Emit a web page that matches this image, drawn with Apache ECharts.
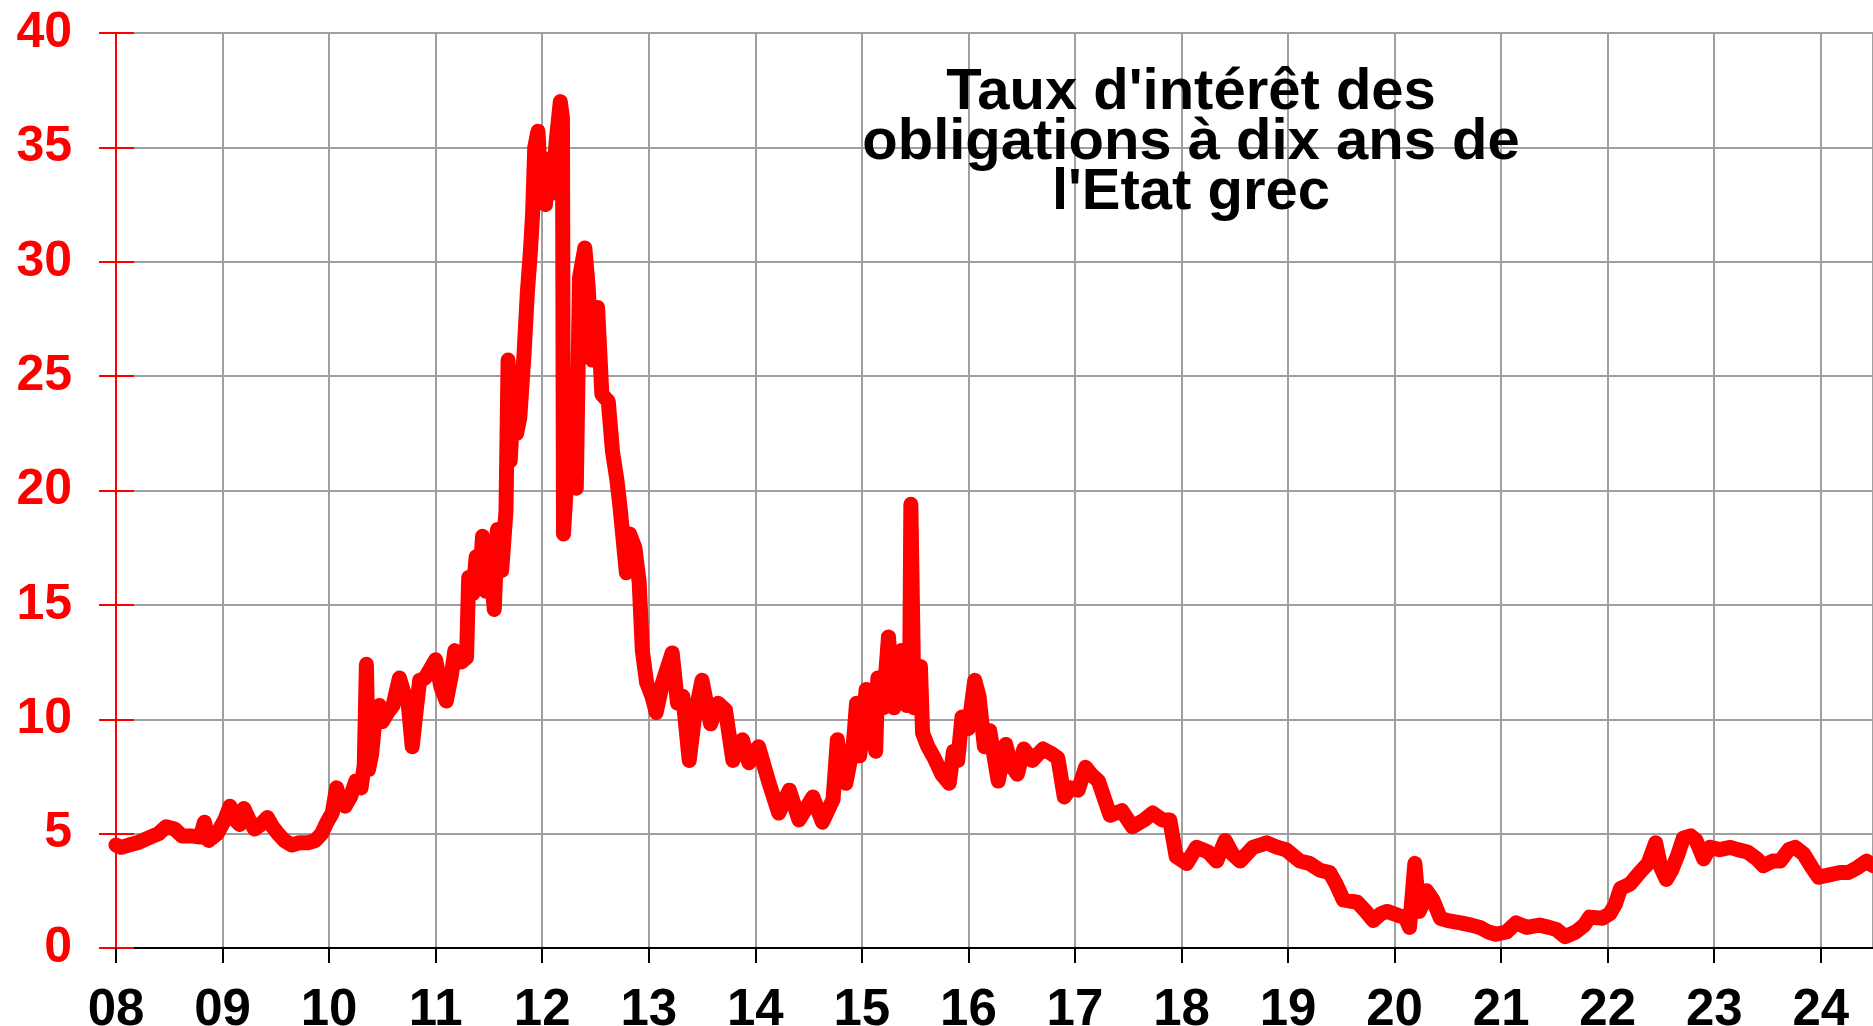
<!DOCTYPE html>
<html>
<head>
<meta charset="utf-8">
<script src="https://cdn.jsdelivr.net/npm/echarts@6/dist/echarts.min.js"></script>
<style>
  html, body { margin: 0; padding: 0; background: #ffffff; }
  #chart { width: 1873px; height: 1026px; }
</style>
</head>
<body>
<div id="chart"></div>
<script>
// Decimal year of each observation
const dates = [
  2008.00, 2008.05, 2008.12, 2008.20, 2008.30, 2008.40, 2008.47, 2008.55, 2008.62, 2008.70,
  2008.79, 2008.83, 2008.87, 2008.95, 2009.02, 2009.07, 2009.12, 2009.16, 2009.20, 2009.25,
  2009.30, 2009.36, 2009.42, 2009.47, 2009.52, 2009.58, 2009.65, 2009.72, 2009.80, 2009.87,
  2009.93, 2009.98, 2010.03, 2010.07, 2010.10, 2010.15, 2010.20, 2010.25, 2010.30, 2010.33,
  2010.35, 2010.37, 2010.40, 2010.42, 2010.45, 2010.47, 2010.50, 2010.55, 2010.60, 2010.66,
  2010.70, 2010.74, 2010.78, 2010.82, 2010.85, 2010.90, 2010.95, 2011.00, 2011.05, 2011.10,
  2011.15, 2011.18, 2011.24, 2011.29, 2011.31, 2011.35, 2011.38, 2011.42, 2011.44, 2011.47,
  2011.50, 2011.55, 2011.58, 2011.62, 2011.66, 2011.68, 2011.70, 2011.73, 2011.76, 2011.79,
  2011.83, 2011.86, 2011.89, 2011.91, 2011.93, 2011.96, 2011.98, 2012.00, 2012.03, 2012.07,
  2012.10, 2012.13, 2012.17, 2012.19, 2012.20, 2012.23, 2012.25, 2012.28, 2012.32, 2012.35,
  2012.40, 2012.43, 2012.47, 2012.52, 2012.56, 2012.62, 2012.66, 2012.70, 2012.73, 2012.79,
  2012.82, 2012.87, 2012.91, 2012.94, 2012.98, 2013.03, 2013.07, 2013.13, 2013.22, 2013.27,
  2013.32, 2013.38, 2013.43, 2013.50, 2013.58, 2013.65, 2013.72, 2013.79, 2013.88, 2013.94,
  2014.03, 2014.13, 2014.22, 2014.32, 2014.41, 2014.54, 2014.63, 2014.73, 2014.77, 2014.82,
  2014.85, 2014.92, 2014.95, 2014.98, 2015.04, 2015.10, 2015.13, 2015.15, 2015.20, 2015.25,
  2015.30, 2015.37, 2015.42, 2015.45, 2015.46, 2015.49, 2015.52, 2015.55, 2015.57, 2015.62,
  2015.68, 2015.75, 2015.82, 2015.86, 2015.90, 2015.94, 2016.00, 2016.06, 2016.10, 2016.15,
  2016.20, 2016.28, 2016.35, 2016.40, 2016.46, 2016.52, 2016.60, 2016.70, 2016.78, 2016.84,
  2016.90, 2016.96, 2017.03, 2017.10, 2017.15, 2017.22, 2017.33, 2017.44, 2017.54, 2017.65,
  2017.73, 2017.82, 2017.89, 2017.95, 2018.05, 2018.14, 2018.25, 2018.33, 2018.41, 2018.48,
  2018.55, 2018.67, 2018.80, 2018.90, 2018.98, 2019.11, 2019.20, 2019.30, 2019.39, 2019.45,
  2019.52, 2019.65, 2019.73, 2019.80, 2019.87, 2019.93, 2020.05, 2020.10, 2020.14, 2020.19,
  2020.23, 2020.27, 2020.30, 2020.36, 2020.43, 2020.50, 2020.62, 2020.72, 2020.80, 2020.88,
  2020.95, 2021.05, 2021.14, 2021.24, 2021.36, 2021.45, 2021.52, 2021.60, 2021.70, 2021.78,
  2021.83, 2021.95, 2022.02, 2022.07, 2022.12, 2022.21, 2022.30, 2022.38, 2022.45, 2022.50,
  2022.55, 2022.60, 2022.66, 2022.71, 2022.78, 2022.83, 2022.90, 2022.96, 2023.05, 2023.15,
  2023.22, 2023.31, 2023.40, 2023.46, 2023.55, 2023.62, 2023.70, 2023.76, 2023.84, 2023.92,
  2023.98, 2024.08, 2024.18, 2024.26, 2024.34, 2024.43, 2024.49
];

// 10-year Greek government bond yield (%)
const yields = [
  4.5, 4.4, 4.5, 4.6, 4.8, 5.0, 5.3, 5.2, 4.9, 4.9,
  4.85, 5.5, 4.7, 5.0, 5.6, 6.2, 5.6, 5.4, 6.1, 5.6,
  5.2, 5.4, 5.7, 5.3, 5.0, 4.7, 4.5, 4.6, 4.6, 4.7,
  5.0, 5.5, 5.9, 7.0, 6.5, 6.2, 6.6, 7.3, 7.0, 8.0,
  12.4, 7.8, 8.5, 9.5, 10.3, 10.6, 9.9, 10.3, 10.6, 11.8,
  11.2, 10.8, 8.8, 10.5, 11.7, 11.8, 12.2, 12.6, 11.4, 10.8,
  12.0, 13.0, 12.5, 12.7, 16.2, 15.5, 17.1, 16.5, 18.0, 15.6,
  17.5, 14.8, 18.3, 16.5, 19.1, 25.7, 21.3, 24.0, 22.5, 23.2,
  26.0, 28.6, 30.5, 32.1, 35.0, 35.7, 34.0, 33.0, 32.5, 34.5,
  33.0, 35.2, 37.0, 36.3, 18.1, 20.5, 22.7, 20.5, 20.1, 29.3,
  30.6, 29.0, 25.7, 28.0, 24.2, 23.9, 21.7, 20.5, 19.3, 16.4,
  18.1, 17.5, 16.0, 13.0, 11.6, 11.0, 10.3, 11.6, 12.9, 10.7,
  11.0, 8.2, 10.1, 11.7, 9.8, 10.7, 10.4, 8.2, 9.1, 8.1,
  8.8, 7.2, 5.9, 6.9, 5.6, 6.6, 5.5, 6.5, 9.1, 7.6,
  7.2, 8.9, 10.7, 8.4, 11.3, 9.5, 8.6, 11.8, 10.5, 13.6,
  10.5, 13.0, 10.6, 12.5, 19.4, 10.5, 12.0, 12.3, 9.4, 8.8,
  8.3, 7.6, 7.2, 8.6, 8.2, 10.1, 9.6, 11.7, 11.0, 8.8,
  9.5, 7.3, 8.9, 8.0, 7.6, 8.7, 8.2, 8.7, 8.5, 8.3,
  6.6, 7.0, 6.9, 7.9, 7.6, 7.3, 5.8, 6.0, 5.3, 5.6,
  5.9, 5.6, 5.6, 4.0, 3.7, 4.4, 4.2, 3.8, 4.7, 4.1,
  3.8, 4.4, 4.6, 4.4, 4.3, 3.8, 3.7, 3.4, 3.3, 2.8,
  2.1, 2.0, 1.6, 1.2, 1.5, 1.6, 1.4, 1.35, 0.9, 3.7,
  1.6, 2.0, 2.5, 2.1, 1.3, 1.2, 1.1, 1.0, 0.9, 0.7,
  0.6, 0.7, 1.1, 0.9, 1.0, 0.9, 0.8, 0.5, 0.7, 1.0,
  1.35, 1.3, 1.5, 1.9, 2.6, 2.8, 3.3, 3.7, 4.6, 3.5,
  3.0, 3.4, 4.1, 4.8, 4.9, 4.7, 3.9, 4.4, 4.3, 4.4,
  4.3, 4.2, 3.9, 3.6, 3.8, 3.8, 4.3, 4.4, 4.1, 3.5,
  3.1, 3.2, 3.3, 3.3, 3.5, 3.8, 3.6
];

// Axis ticks
const yearTicks = ['08','09','10','11','12','13','14','15','16','17','18','19','20','21','22','23','24'];
const yTicks = [0, 5, 10, 15, 20, 25, 30, 35, 40];

const titleLines = ["Taux d'intérêt des", "obligations à dix ans de", "l'Etat grec"];

const FONT = '"Liberation Sans", Arial, Helvetica, sans-serif';
const seriesData = dates.map((d, i) => [d, yields[i]]);

const chart = echarts.init(document.getElementById('chart'), null, { renderer: 'canvas' });
chart.setOption({
  animation: false,
  backgroundColor: '#ffffff',
  grid: { left: 116, right: 0, top: 33, bottom: 78, containLabel: false, outerBoundsMode: 'none' },
  xAxis: {
    type: 'value',
    min: 2008,
    max: 2024.49,
    interval: 1,
    axisLine: { show: true, onZero: false, lineStyle: { color: '#000000', width: 2 } },
    axisTick: { show: true, length: 15, lineStyle: { color: '#000000', width: 2 } },
    axisLabel: {
      show: true,
      margin: 37,
      color: '#000000',
      fontSize: 51,
      fontWeight: 'bold',
      fontFamily: FONT,
      showMaxLabel: false,
      formatter: function (v) {
        const idx = Math.round(v) - 2008;
        if (Math.abs(v - Math.round(v)) > 1e-6) return '';
        return yearTicks[idx] !== undefined ? yearTicks[idx] : '';
      }
    },
    splitLine: { show: true, lineStyle: { color: '#a0a0a0', width: 2 } }
  },
  yAxis: [
    {
      type: 'value',
      min: yTicks[0],
      max: yTicks[yTicks.length - 1],
      interval: 5,
      position: 'left',
      axisLine: { show: true, lineStyle: { color: '#ff0000', width: 2 } },
      axisTick: { show: true, length: 17, lineStyle: { color: '#ff0000', width: 2 } },
      axisLabel: {
        margin: 44,
        color: '#ff0000',
        fontSize: 50,
        fontWeight: 'bold',
        fontFamily: FONT
      },
      splitLine: { show: true, lineStyle: { color: '#a0a0a0', width: 2 } }
    },
    {
      type: 'value',
      min: yTicks[0],
      max: yTicks[yTicks.length - 1],
      interval: 5,
      position: 'left',
      axisLine: { show: false },
      axisTick: { show: true, inside: true, length: 18, lineStyle: { color: '#ff0000', width: 2 } },
      axisLabel: { show: false },
      splitLine: { show: false }
    }
  ],
  graphic: [
    {
      type: 'text',
      x: 1191,
      y: 68,
      z: 100,
      style: {
        text: titleLines.join('\n'),
        fill: '#000000',
        fontSize: 58,
        fontWeight: 'bold',
        fontFamily: FONT,
        lineHeight: 50,
        align: 'center',
        verticalAlign: 'top',
        textAlign: 'center',
        textVerticalAlign: 'top'
      }
    }
  ],
  series: [
    {
      type: 'line',
      xAxisIndex: 0,
      yAxisIndex: 0,
      data: seriesData,
      showSymbol: false,
      symbol: 'none',
      clip: true,
      z: 5,
      lineStyle: { color: '#ff0000', width: 15, cap: 'round', join: 'round' }
    }
  ]
});
</script>
</body>
</html>
